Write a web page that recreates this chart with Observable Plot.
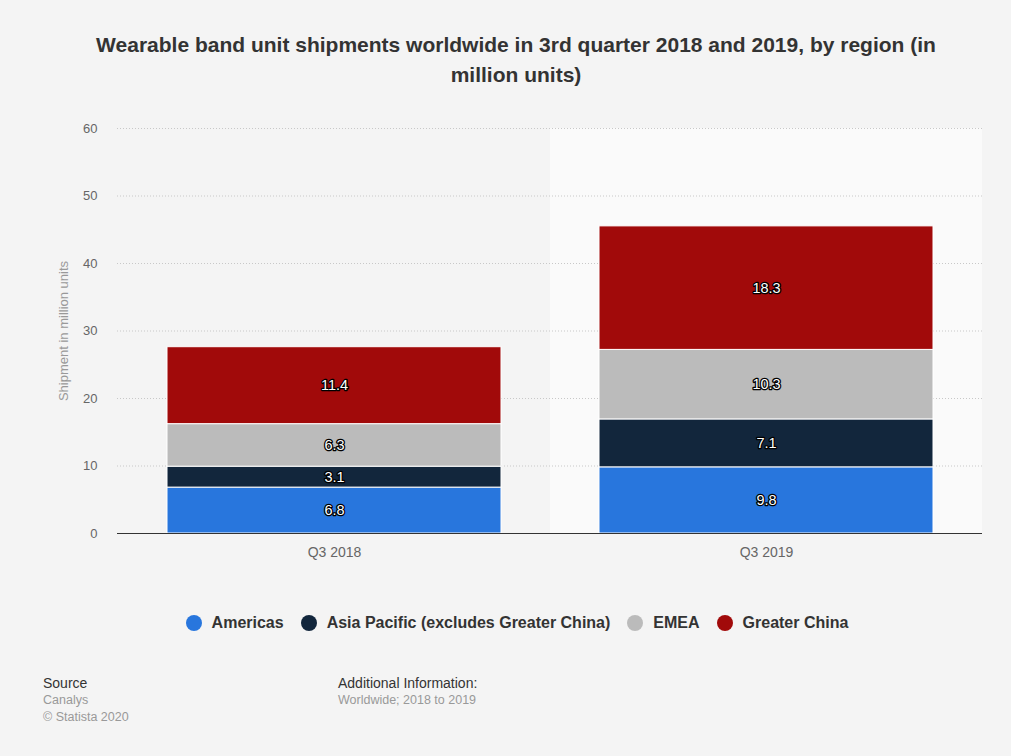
<!DOCTYPE html>
<html>
<head>
<meta charset="utf-8">
<script src="https://cdn.jsdelivr.net/npm/d3@7"></script>
<script src="https://cdn.jsdelivr.net/npm/@observablehq/plot@0.6"></script>
<style>
  html, body { margin: 0; padding: 0; background: #f4f4f4; }
  body { width: 1011px; height: 756px; position: relative; overflow: hidden; font-family: "Liberation Sans", Arial, sans-serif; }
  #title { position: absolute; top: 30px; left: 0; width: 1032px; text-align: center; font-weight: bold; font-size: 21px; line-height: 30px; color: #333; }
  #chart { position: absolute; top: 110px; left: 0; }
  #legend { position: absolute; top: 614px; left: 0; width: 1034px; display: flex; justify-content: center; gap: 17px; font-weight: bold; font-size: 16px; color: #333; }
  #legend .item { display: flex; align-items: center; gap: 10px; }
  #legend .dot { width: 16px; height: 16px; border-radius: 50%; display: inline-block; }
  .foot { position: absolute; font-size: 12.5px; line-height: 17px; }
  .foot .h { color: #333; font-size: 14px; }
  .foot .s { color: #999; }
</style>
</head>
<body>
<div id="title">Wearable band unit shipments worldwide in 3rd quarter 2018 and 2019, by region (in<br>million units)</div>
<div id="chart"></div>
<div id="legend"></div>
<div class="foot" style="left:43px; top:675px;"><div class="h">Source</div><div class="s">Canalys</div><div class="s">© Statista 2020</div></div>
<div class="foot" style="left:338px; top:675px;"><div class="h">Additional Information:</div><div class="s">Worldwide; 2018 to 2019</div></div>
<script>
const quarters = ["Q3 2018", "Q3 2019"];
const regions = ["Americas", "Asia Pacific (excludes Greater China)", "EMEA", "Greater China"];
const colors = ["#2876dd", "#12263c", "#bbbbbb", "#a10a0a"];
const americas = [6.8, 9.8];
const asiaPacific = [3.1, 7.1];
const emea = [6.3, 10.3];
const greaterChina = [11.4, 18.3];
const yTicks = [0, 10, 20, 30, 40, 50, 60];
const yLabel = "Shipment in million units";

const series = [americas, asiaPacific, emea, greaterChina];
const data = [];
quarters.forEach((q, qi) => {
  regions.forEach((r, ri) => data.push({quarter: q, region: r, value: series[ri][qi]}));
});

const chart = Plot.plot({
  width: 1011,
  height: 470,
  marginLeft: 117,
  marginRight: 29,
  marginTop: 18,
  marginBottom: 47,
  style: {background: "transparent", fontFamily: "'Liberation Sans', Arial, sans-serif", fontSize: "13px"},
  x: {domain: quarters, paddingInner: 0.228, paddingOuter: 0.114, label: null},
  y: {domain: [0, 60], label: null},
  color: {domain: regions, range: colors},
  marks: [
    Plot.barY([quarters[1]], {x: d => d, y1: 0, y2: 60, fill: "#fafafa", insetLeft: -49, insetRight: -49}),
    Plot.gridY(yTicks, {stroke: "#c8c8c8", strokeOpacity: 1, strokeDasharray: "1,2"}),
    Plot.axisX({tickSize: 0, tickPadding: 14, fill: "#666", fontSize: 14}),
    Plot.axisY(yTicks, {tickSize: 0, tickPadding: 20, fill: "#666", fontSize: 13, label: null}),
    Plot.text([yLabel], {frameAnchor: "left", textAnchor: "middle", rotate: -90, dx: -54, fill: "#999", fontSize: 13, text: d => d}),
    Plot.barY(data, {x: "quarter", y: "value", fill: "region", stroke: "white", strokeWidth: 1, order: regions}),
    Plot.text(data, Plot.stackY({x: "quarter", y: "value", z: "region", order: regions, text: d => d.value.toFixed(1), fill: "white", stroke: "black", strokeWidth: 2.5, paintOrder: "stroke", fontSize: 14.5})),
    Plot.ruleY([0], {stroke: "#333", strokeWidth: 1.2})
  ]
});
document.getElementById("chart").appendChild(chart);

const legend = document.getElementById("legend");
regions.forEach((r, i) => {
  const it = document.createElement("div");
  it.className = "item";
  const dot = document.createElement("span");
  dot.className = "dot";
  dot.style.background = colors[i];
  const t = document.createElement("span");
  t.textContent = r;
  it.appendChild(dot);
  it.appendChild(t);
  legend.appendChild(it);
});
</script>
</body>
</html>
